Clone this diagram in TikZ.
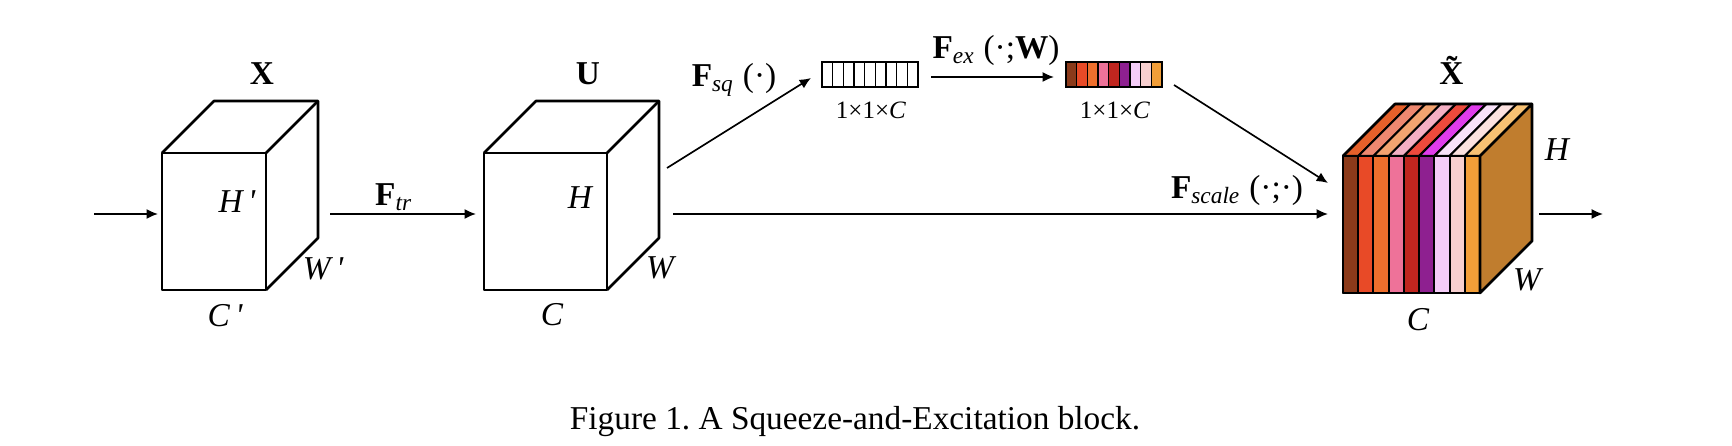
\documentclass[tikz,border=0pt]{standalone}
\usepackage{fontspec}
\setmainfont{Liberation Serif}
\usetikzlibrary{arrows.meta}
\frenchspacing

% channel colours (front) and their lighter tops
\definecolor{cha}{HTML}{8B3A1A}
\definecolor{chb}{HTML}{E84A27}
\definecolor{chc}{HTML}{EE6F2D}
\definecolor{chd}{HTML}{EE7299}
\definecolor{che}{HTML}{C0261F}
\definecolor{chf}{HTML}{8E2090}
\definecolor{chg}{HTML}{F5CDF8}
\definecolor{chh}{HTML}{F7CFCF}
\definecolor{chi}{HTML}{F29E38}
\definecolor{tpa}{HTML}{E5602A}
\definecolor{tpb}{HTML}{EE8870}
\definecolor{tpc}{HTML}{F3A370}
\definecolor{tpd}{HTML}{F4AFC3}
\definecolor{tpe}{HTML}{EC4A3C}
\definecolor{tpf}{HTML}{E03CEB}
\definecolor{tpg}{HTML}{F9E2F9}
\definecolor{tph}{HTML}{FCE2E0}
\definecolor{tpi}{HTML}{F7C173}
\definecolor{side}{HTML}{C07D2E}

\tikzset{
  cube/.style={line width=0.8pt, line join=round},
  stripe/.style={line width=0.6pt, line join=round},
  cell/.style={line width=0.4pt},
  arr/.style={line width=0.5pt, -{Latex[length=3.4pt,width=3pt]}},
  dimlabel/.style={font=\itshape, inner sep=0pt},
  small/.style={font=\fontsize{7.5}{9}\selectfont, inner sep=0pt}
}

\begin{document}
\begin{tikzpicture}[x=0.3pt, y=0.3pt]
    \useasboundingbox (0,0) rectangle (1732,446);
    % define variables.
    \def\dep{52}
    \def\hgt{137}
    \def\sw{15.222}
    \def\cw{10.667}
    % draw the cube X
    \draw[cube] (162,156) rectangle (266,293);
    \draw[cube] (162,293) -- ++(\dep,\dep) -- ++(104,0) -- ++(0,-\hgt) -- (266,156);
    \draw[cube] (266,293) -- ++(\dep,\dep);
    % draw the cube U
    \draw[cube] (484,156) rectangle (607,293);
    \draw[cube] (484,293) -- ++(\dep,\dep) -- ++(123,0) -- ++(0,-\hgt) -- (607,156);
    \draw[cube] (607,293) -- ++(\dep,\dep);
    % draw the scaled cube
    \foreach \c [count=\i from 0] in {cha,chb,chc,chd,che,chf,chg,chh,chi}
        \draw[stripe, fill=\c] ({1343+\i*\sw},153) rectangle ++(\sw,\hgt);
    \foreach \c [count=\i from 0] in {tpa,tpb,tpc,tpd,tpe,tpf,tpg,tph,tpi}
        \draw[stripe, fill=\c] ({1343+\i*\sw},290) -- ++(\sw,0) -- ++(\dep,\dep) -- ++(-\sw,0) -- cycle;
    \draw[cube, fill=side] (1480,153) -- ++(\dep,\dep) -- ++(0,\hgt) -- (1480,290) -- cycle;
    \draw[cube] (1343,153) rectangle (1480,290);
    \draw[cube] (1343,290) -- ++(\dep,\dep) -- ++(137,0);
    % draw the vectors
    \draw[cell] (822,359) rectangle (918,384);
    \foreach \i in {1,...,8}
        \draw[cell] ({822+\i*\cw},359) -- ++(0,25);
    \foreach \c [count=\i from 0] in {cha,chb,chc,chd,che,chf,chg,chh,chi}
        \draw[cell, fill=\c] ({1066+\i*\cw},359) rectangle ++(\cw,25);
    % arrow ends
    \coordinate (in1) at (94,232);
    \coordinate (in2) at (158,232);
    \coordinate (tr1) at (330,232);
    \coordinate (tr2) at (476,232);
    \coordinate (sq1) at (667,278);
    \coordinate (sq2) at (811,368);
    \coordinate (ex1) at (931,369);
    \coordinate (ex2) at (1054,369);
    \coordinate (sc1) at (1174,361);
    \coordinate (sc2) at (1328,263);
    \coordinate (mn1) at (673,232);
    \coordinate (mn2) at (1328,232);
    \coordinate (out1) at (1539,232);
    \coordinate (out2) at (1603,232);
    % draw the arrows
    \draw[arr] (in1) -- (in2);
    \draw[arr] (tr1) -- (tr2);
    \draw[arr] (sq1) -- (sq2);
    \draw[arr] (ex1) -- (ex2);
    \draw[arr] (sc1) -- (sc2);
    \draw[arr] (mn1) -- (mn2);
    \draw[arr] (out1) -- (out2);
    % draw the labels
    \node[anchor=base] (xlab) at (262,361) {\textbf{X}};
    \node[anchor=base] (ulab) at (588,361) {\textbf{U}};
    \node[anchor=base] (xtlab) at (1457,361) {\textbf{\~X}};
    \node[dimlabel] (hx) at (237,244) {H\,\textquotesingle};
    \node[dimlabel] (wx) at (323,177) {W\,\textquotesingle};
    \node[dimlabel] (cx) at (225,130) {C\,\textquotesingle};
    \node[dimlabel] (hu) at (580,248) {H};
    \node[dimlabel] (wu) at (660,178) {W};
    \node[dimlabel] (cu) at (552,131) {C};
    \node[dimlabel] (ht) at (1557,296) {H};
    \node[dimlabel] (wt) at (1527,166) {W};
    \node[dimlabel] (ct) at (1418,126) {C};
    \node (ftr) at (394,249) {\textbf{F}\textsubscript{\textit{tr}}};
    \node (fsq) at (734,366) {\textbf{F}\textsubscript{\textit{sq}} (·)};
    \node (fex) at (996,396) {\textbf{F}\textsubscript{\textit{ex}} (·;\textbf{W})};
    \node (fsc) at (1237,256) {\textbf{F}\textsubscript{\textit{scale}} (·;·)};
    \node[small] (sqdim) at (871,336) {1×1×\textit{C}};
    \node[small] (exdim) at (1115,336) {1×1×\textit{C}};
    \node (cap) at (855,24) {Figure 1. A Squeeze-and-Excitation block.};
\end{tikzpicture}
\end{document}
